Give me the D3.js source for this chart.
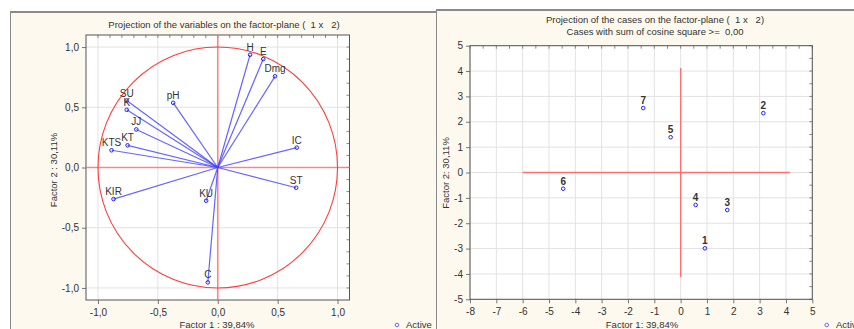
<!DOCTYPE html>
<html><head><meta charset="utf-8">
<script src="https://cdn.jsdelivr.net/npm/d3@7"></script>
<style>
body{margin:0;background:#fff;}
svg{display:block;font-family:"Liberation Sans",Arial,sans-serif;}
text{white-space:pre;}
</style></head>
<body>
<svg id="c" width="854" height="329"></svg>
<script>
// ---- Data: variables (left panel) ----
const varNames = ["H","E","Dmg","SU","K","pH","JJ","KT","KTS","IC","ST","KIR","KU","C"];
const varF1 = [0.27,0.38,0.478,-0.76,-0.76,-0.372,-0.68,-0.753,-0.887,0.66,0.655,-0.87,-0.097,-0.083];
const varF2 = [0.936,0.90,0.757,0.556,0.479,0.537,0.316,0.184,0.143,0.165,-0.168,-0.262,-0.276,-0.954];
const leftTicks = [-1.0,-0.5,0.0,0.5,1.0];

// ---- Data: cases (right panel) ----
const caseNames = ["1","2","3","4","5","6","7"];
const caseF1 = [0.92,3.14,1.77,0.57,-0.38,-4.46,-1.42];
const caseF2 = [-2.99,2.34,-1.48,-1.28,1.39,-0.64,2.54];
const rightXTicks = [-8,-7,-6,-5,-4,-3,-2,-1,0,1,2,3,4,5];
const rightYTicks = [-5,-4,-3,-2,-1,0,1,2,3,4,5];
const crossX = [-6,4.15];
const crossY = [-4.12,4.12];

const cream = "#fdf9ee";
const svg = d3.select("#c");
const fmt = d => d3.format(".1f")(d).replace(".",",").replace("−","-");

// panels
svg.append("rect").attr("x",10).attr("y",12).attr("width",426).attr("height",330).attr("fill",cream);
svg.append("line").attr("x1",10).attr("x2",436).attr("y1",12).attr("y2",12).attr("stroke","#8a8a8a").attr("stroke-width",2);
svg.append("line").attr("x1",10.5).attr("x2",10.5).attr("y1",12).attr("y2",329).attr("stroke","#8a8a8a").attr("stroke-width",1);
svg.append("rect").attr("x",436).attr("y",10).attr("width",420).attr("height",330).attr("fill",cream);
svg.append("line").attr("x1",436).attr("x2",854).attr("y1",10).attr("y2",10).attr("stroke","#8a8a8a").attr("stroke-width",2);
svg.append("line").attr("x1",436.5).attr("x2",436.5).attr("y1",10).attr("y2",329).attr("stroke","#8a8a8a").attr("stroke-width",1);

// ========== LEFT PANEL ==========
{
  const x = d3.scaleLinear().domain([-1.1,1.1]).range([86,349.5]);
  const y = d3.scaleLinear().domain([-1.1,1.1]).range([300,35]);
  const g = svg.append("g");
  g.append("rect").attr("x",86).attr("y",35).attr("width",263.5).attr("height",265).attr("fill","#fff");
  leftTicks.forEach(t=>{
    g.append("line").attr("x1",x(t)).attr("x2",x(t)).attr("y1",35).attr("y2",300).attr("stroke","#e2e2e2");
    g.append("line").attr("y1",y(t)).attr("y2",y(t)).attr("x1",86).attr("x2",349.5).attr("stroke","#e2e2e2");
  });
  d3.range(-10,11).forEach(i=>{
    const v=i/10;
    g.append("line").attr("x1",x(v)).attr("x2",x(v)).attr("y1",35).attr("y2",38).attr("stroke","#888");
    g.append("line").attr("y1",y(v)).attr("y2",y(v)).attr("x1",349.5).attr("x2",346.5).attr("stroke","#888");
  });
  const xa = d3.axisBottom(x).tickValues(leftTicks).tickFormat(fmt).tickSize(4);
  const ya = d3.axisLeft(y).tickValues(leftTicks).tickFormat(fmt).tickSize(4);
  const gx = g.append("g").attr("transform","translate(0,300)").call(xa);
  const gy = g.append("g").attr("transform","translate(86,0)").call(ya);
  [gx,gy].forEach(a=>{a.select(".domain").remove();a.selectAll("line").attr("stroke","#777");
    a.selectAll("text").attr("fill","#333").style("font-size","10px").style("font-family","Liberation Sans, Arial");});
  gx.selectAll("text").attr("dy","0.9em");
  g.append("rect").attr("x",86).attr("y",35).attr("width",263.5).attr("height",265).attr("fill","none").attr("stroke","#555");
  g.append("line").attr("x1",86).attr("x2",349.5).attr("y1",y(0)).attr("y2",y(0)).attr("stroke","#ff6f6f").attr("stroke-width",1.6).attr("opacity",0.8);
  g.append("line").attr("y1",35).attr("y2",300).attr("x1",x(0)).attr("x2",x(0)).attr("stroke","#ff6f6f").attr("stroke-width",1.6).attr("opacity",0.8);
  g.append("ellipse").attr("cx",x(0)).attr("cy",y(0)).attr("rx",x(1)-x(0)).attr("ry",y(0)-y(1))
    .attr("fill","none").attr("stroke","#ff3b3b").attr("stroke-width",1.1);
  varNames.forEach((n,i)=>{
    g.append("line").attr("x1",x(0)).attr("y1",y(0)).attr("x2",x(varF1[i])).attr("y2",y(varF2[i]))
      .attr("stroke","#4040ff").attr("stroke-width",1.2).attr("opacity",0.8);
  });
  varNames.forEach((n,i)=>{
    g.append("circle").attr("cx",x(varF1[i])).attr("cy",y(varF2[i])).attr("r",1.8)
      .attr("fill","none").attr("stroke","#2222ee").attr("stroke-width",1);
    g.append("text").attr("x",x(varF1[i])).attr("y",y(varF2[i])-4).attr("text-anchor","middle")
      .attr("fill","#333").style("font-size","10px").text(n);
  });
  svg.append("text").attr("x",224).attr("y",28).attr("text-anchor","middle").attr("fill","#333").style("font-size","9.5px")
    .text("Projection of the variables on the factor-plane (  1 x   2)");
  svg.append("text").attr("transform","translate(57,170) rotate(-90)").attr("text-anchor","middle").attr("fill","#333").style("font-size","9.5px")
    .text("Factor 2 : 30,11%");
  svg.append("text").attr("x",217).attr("y",328).attr("text-anchor","middle").attr("fill","#333").style("font-size","9.5px")
    .text("Factor 1 : 39,84%");
  svg.append("circle").attr("cx",397).attr("cy",325).attr("r",1.8).attr("fill","none").attr("stroke","#6a6aff");
  svg.append("text").attr("x",406).attr("y",328).attr("fill","#333").style("font-size","9.5px").text("Active");
}

// ========== RIGHT PANEL ==========
{
  const x = d3.scaleLinear().domain([-8,5]).range([470,812.3]);
  const y = d3.scaleLinear().domain([-5,5]).range([299.3,45.7]);
  const g = svg.append("g");
  g.append("rect").attr("x",470).attr("y",45.7).attr("width",342.3).attr("height",253.6).attr("fill","#fff");
  rightXTicks.forEach(t=>g.append("line").attr("x1",x(t)).attr("x2",x(t)).attr("y1",45.7).attr("y2",299.3).attr("stroke","#e2e2e2"));
  rightYTicks.forEach(t=>g.append("line").attr("y1",y(t)).attr("y2",y(t)).attr("x1",470).attr("x2",812.3).attr("stroke","#e2e2e2"));
  d3.range(-80,51,5).forEach(i=>{
    const v=i/10;
    g.append("line").attr("x1",x(v)).attr("x2",x(v)).attr("y1",45.7).attr("y2",48.7).attr("stroke","#888");
  });
  d3.range(-50,51,5).forEach(i=>{
    const v=i/10;
    g.append("line").attr("y1",y(v)).attr("y2",y(v)).attr("x1",812.3).attr("x2",809.3).attr("stroke","#888");
  });
  const xa = d3.axisBottom(x).tickValues(rightXTicks).tickFormat(d3.format("d")).tickSize(4);
  const ya = d3.axisLeft(y).tickValues(rightYTicks).tickFormat(d3.format("d")).tickSize(4);
  const gx = g.append("g").attr("transform","translate(0,299.3)").call(xa);
  const gy = g.append("g").attr("transform","translate(470,0)").call(ya);
  [gx,gy].forEach(a=>{a.select(".domain").remove();a.selectAll("line").attr("stroke","#777");
    a.selectAll("text").attr("fill","#333").style("font-size","10px");});
  gx.selectAll("text").text(d=>String(d).replace("−","-")).attr("dy","0.9em");
  gy.selectAll("text").text(d=>String(d).replace("−","-"));
  g.append("rect").attr("x",470).attr("y",45.7).attr("width",342.3).attr("height",253.6).attr("fill","none").attr("stroke","#555");
  g.append("line").attr("x1",x(crossX[0])).attr("x2",x(crossX[1])).attr("y1",y(0)).attr("y2",y(0)).attr("stroke","#ff6f6f").attr("stroke-width",1.3);
  g.append("line").attr("y1",y(crossY[0])).attr("y2",y(crossY[1])).attr("x1",x(0)).attr("x2",x(0)).attr("stroke","#ff6f6f").attr("stroke-width",1.3);
  caseNames.forEach((n,i)=>{
    g.append("circle").attr("cx",x(caseF1[i])).attr("cy",y(caseF2[i])).attr("r",1.8)
      .attr("fill","none").attr("stroke","#2222ee").attr("stroke-width",1);
    g.append("text").attr("x",x(caseF1[i])).attr("y",y(caseF2[i])-4).attr("text-anchor","middle")
      .attr("fill","#333").style("font-size","10px").style("font-weight","bold").text(n);
  });
  svg.append("text").attr("x",655).attr("y",23).attr("text-anchor","middle").attr("fill","#333").style("font-size","9.5px")
    .text("Projection of the cases on the factor-plane (  1 x   2)");
  svg.append("text").attr("x",655).attr("y",35).attr("text-anchor","middle").attr("fill","#333").style("font-size","9.5px")
    .text("Cases with sum of cosine square >=  0,00");
  svg.append("text").attr("transform","translate(449,173) rotate(-90)").attr("text-anchor","middle").attr("fill","#333").style("font-size","9.5px")
    .text("Factor 2: 30,11%");
  svg.append("text").attr("x",642).attr("y",328).attr("text-anchor","middle").attr("fill","#333").style("font-size","9.5px")
    .text("Factor 1: 39,84%");
  svg.append("circle").attr("cx",826.7).attr("cy",325).attr("r",1.8).attr("fill","none").attr("stroke","#6a6aff");
  svg.append("text").attr("x",836).attr("y",328).attr("fill","#333").style("font-size","9.5px").text("Active");
}
</script>
</body></html>
